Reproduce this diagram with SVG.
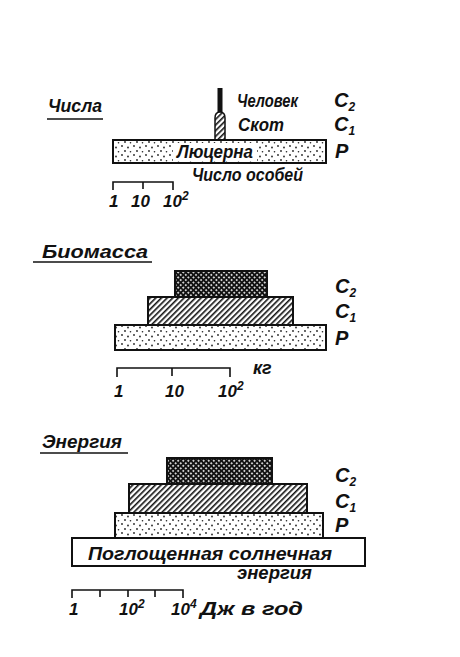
<svg xmlns="http://www.w3.org/2000/svg" width="460" height="657" viewBox="0 0 460 657">
<defs>
<style>
text{font-family:"Liberation Sans","DejaVu Sans",sans-serif;font-style:italic;font-weight:bold;fill:#111;font-size:18px}
.lbl{font-size:19px}
.cl{font-size:20px}
.sub{font-size:12px}
.num{font-size:17px}
.box{stroke:#111;stroke-width:2}
.ln{stroke:#111;stroke-width:1.6;fill:none}
</style>
<pattern id="dots" width="12" height="9" patternUnits="userSpaceOnUse">
<rect width="12" height="9" fill="#fff"/>
<circle cx="2" cy="2" r="0.9" fill="#222"/>
<circle cx="8" cy="3.5" r="0.9" fill="#222"/>
<circle cx="5" cy="7" r="0.9" fill="#222"/>
<circle cx="10.5" cy="7.8" r="0.8" fill="#222"/>
</pattern>
<pattern id="hatch" width="4" height="4" patternUnits="userSpaceOnUse" patternTransform="rotate(45)">
<rect width="4" height="4" fill="#fff"/>
<rect x="0" y="0" width="1.6" height="4" fill="#111"/>
</pattern>
<pattern id="cross" width="3.6" height="3.6" patternUnits="userSpaceOnUse" patternTransform="rotate(45)">
<rect width="3.6" height="3.6" fill="#111"/>
<circle cx="1.8" cy="1.8" r="1" fill="#fff"/>
</pattern>
</defs>
<rect width="460" height="657" fill="#fff"/>

<g id="numbers">
<text x="48" y="112" class="lbl" textLength="54" lengthAdjust="spacingAndGlyphs">Числа</text>
<line x1="47" y1="119" x2="103" y2="119" class="ln"/>
<g id="n-human">
<rect x="217.5" y="88" width="5" height="26" fill="#111"/>
<path d="M215 140 V118 Q215 112 220 112 Q225 112 225 118 V140" fill="url(#hatch)" stroke="#111" stroke-width="1.5"/>
<text x="237" y="107" textLength="61" lengthAdjust="spacingAndGlyphs">Человек</text>
<text x="334" y="107" class="cl">C<tspan class="sub" dy="4">2</tspan></text>
</g>
<g id="n-cattle">
<text x="238" y="131" textLength="46" lengthAdjust="spacingAndGlyphs">Скот</text>
<text x="334" y="131" class="cl">C<tspan class="sub" dy="4">1</tspan></text>
</g>
<g id="n-alfalfa">
<rect x="113" y="140" width="213" height="23" fill="url(#dots)" class="box"/>
<rect x="173" y="143" width="84" height="18" fill="#fff"/>
<text x="177" y="158" textLength="76" lengthAdjust="spacingAndGlyphs">Люцерна</text>
<text x="335" y="158" class="cl">P</text>
</g>
<text x="192" y="181" textLength="111" lengthAdjust="spacingAndGlyphs">Число особей</text>
<g id="n-scale">
<path d="M113 190 V182 H173 V190 M143 182 V189" class="ln"/>
<text x="109" y="207" class="num">1</text>
<text x="131" y="207" class="num">10</text>
<text x="163" y="207" class="num">10<tspan class="sub" dy="-7">2</tspan></text>
</g>
</g>

<g id="biomass">
<text x="42" y="258" class="lbl" textLength="106" lengthAdjust="spacingAndGlyphs">Биомасса</text>
<line x1="33" y1="262" x2="152" y2="262" class="ln"/>
<g id="b-c2">
<rect x="175" y="271" width="92" height="26" fill="url(#cross)" class="box"/>
<text x="335" y="293" class="cl">C<tspan class="sub" dy="4">2</tspan></text>
</g>
<g id="b-c1">
<rect x="148" y="297" width="145" height="28" fill="url(#hatch)" class="box"/>
<text x="335" y="318" class="cl">C<tspan class="sub" dy="4">1</tspan></text>
</g>
<g id="b-p">
<rect x="115" y="325" width="211" height="25" fill="url(#dots)" class="box"/>
<text x="335" y="345" class="cl">P</text>
</g>
<g id="b-scale">
<path d="M117 377 V368 H230 V377 M172 368 V376" class="ln"/>
<text x="253" y="374">кг</text>
<text x="114" y="397" class="num">1</text>
<text x="165" y="397" class="num">10</text>
<text x="218" y="397" class="num">10<tspan class="sub" dy="-7">2</tspan></text>
</g>
</g>

<g id="energy">
<text x="42" y="448" class="lbl" textLength="80" lengthAdjust="spacingAndGlyphs">Энергия</text>
<line x1="40" y1="453" x2="128" y2="453" class="ln"/>
<g id="e-c2">
<rect x="167" y="458" width="105" height="26" fill="url(#cross)" class="box"/>
<text x="335" y="482" class="cl">C<tspan class="sub" dy="4">2</tspan></text>
</g>
<g id="e-c1">
<rect x="129" y="484" width="178" height="29" fill="url(#hatch)" class="box"/>
<text x="335" y="508" class="cl">C<tspan class="sub" dy="4">1</tspan></text>
</g>
<g id="e-p">
<rect x="115" y="513" width="208" height="25" fill="url(#dots)" class="box"/>
<text x="335" y="532" class="cl">P</text>
</g>
<g id="e-sun">
<rect x="72" y="538" width="293" height="28" fill="#fff" class="box"/>
<text x="88" y="560" textLength="244" lengthAdjust="spacingAndGlyphs">Поглощенная солнечная</text>
<text x="237" y="579" textLength="75" lengthAdjust="spacingAndGlyphs">энергия</text>
</g>
<g id="e-scale">
<path d="M72 598 V590 H183 V598 M100 590 V597 M128 590 V597 M155 590 V597" class="ln"/>
<text x="69" y="615" class="num">1</text>
<text x="119" y="615" class="num">10<tspan class="sub" dy="-7">2</tspan></text>
<text x="171" y="615" class="num">10<tspan class="sub" dy="-7">4</tspan></text>
<text x="200" y="615" textLength="103" lengthAdjust="spacingAndGlyphs">Дж в год</text>
</g>
</g>
</svg>
